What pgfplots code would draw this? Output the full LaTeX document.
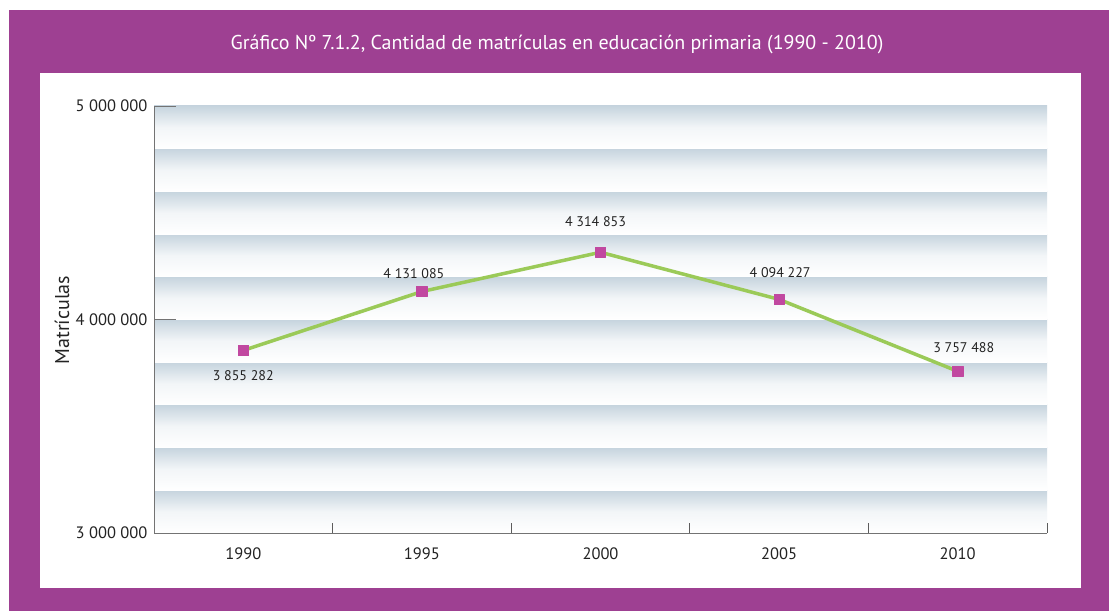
\documentclass[border=0pt]{standalone}
\usepackage{pgfplots}
\pgfplotsset{compat=1.18}
\usepackage{fontspec}
\setmainfont{PT Sans}
\definecolor{framec}{RGB}{158,64,146}
\definecolor{linec}{RGB}{155,202,88}
\definecolor{markc}{RGB}{193,72,160}
\definecolor{bandc}{RGB}{198,212,222}
\definecolor{axgray}{RGB}{115,115,115}
\definecolor{txt}{RGB}{35,35,35}
\begin{document}
\begin{tikzpicture}[x=1pt,y=1pt]
\fill[white] (0,0) rectangle (1113,611);
\fill[framec] (9,0) rectangle (1109,601);
\fill[white] (40,23) rectangle (1081,538);
\node[white, font=\fontsize{20}{20}\selectfont] at (557,566) {Gráfico Nº 7.1.2, Cantidad de matrículas en educación primaria (1990 - 2010)};
\node[txt, rotate=90, font=\fontsize{20}{20}\selectfont] at (62,291) {Matrículas};
\begin{axis}[
  at={(154pt,78pt)}, anchor=south west, scale only axis,
  width=893pt, height=427pt,
  xmin=0, xmax=5, ymin=3000000, ymax=5000000,
  axis x line=bottom, axis y line=left,
  axis line style={-, draw=axgray, line width=0.8pt},
  axis on top,
  tick style={draw=none}, major tick length=0pt,
  xtick={0.5,1.5,2.5,3.5,4.5},
  xticklabels={1990,1995,2000,2005,2010},
  ytick={3000000,4000000,5000000},
  yticklabels={3 000 000,4 000 000,5 000 000},
  scaled y ticks=false,
  tick label style={font=\fontsize{16.5}{16.5}\selectfont, text=txt},
  xticklabel style={yshift=-11pt},
  yticklabel style={xshift=-3pt},
  clip=false,
]
\pgfplotsinvokeforeach{0,...,9}{
  \fill[top color=bandc, bottom color=white, middle color=bandc!22!white]
    (rel axis cs:0,{(#1+1)/10}) rectangle (rel axis cs:1,{#1/10});
}
\pgfplotsinvokeforeach{1,...,5}{
  \draw[axgray!80!black, line width=0.8pt] (axis cs:#1,3000000) -- ++(0pt,10pt);
}
\draw[axgray, line width=0.8pt] (axis cs:0,4000000) -- ++(22pt,0pt);
\draw[axgray, line width=0.8pt] (axis cs:0,5000000) -- ++(22pt,0pt);
\addplot[linec, line width=3.5pt, line join=round, mark=square*, mark size=5.2pt,
  mark options={draw=markc, fill=markc, line width=0.6pt}]
  coordinates {(0.5,3855282) (1.5,4131085) (2.5,4314853) (3.5,4094227) (4.5,3757488)};
\tikzset{lab/.style={txt, font=\fontsize{14}{14}\selectfont}}
\node[lab, xshift=0pt, yshift=-25pt] at (axis cs:0.5,3855282) {3 855 282};
\node[lab, xshift=-8pt, yshift=18pt] at (axis cs:1.5,4131085) {4 131 085};
\node[lab, xshift=-5pt, yshift=31pt] at (axis cs:2.5,4314853) {4 314 853};
\node[lab, xshift=1pt, yshift=27pt] at (axis cs:3.5,4094227) {4 094 227};
\node[lab, xshift=6pt, yshift=24pt] at (axis cs:4.5,3757488) {3 757 488};
\end{axis}
\end{tikzpicture}
\end{document}
